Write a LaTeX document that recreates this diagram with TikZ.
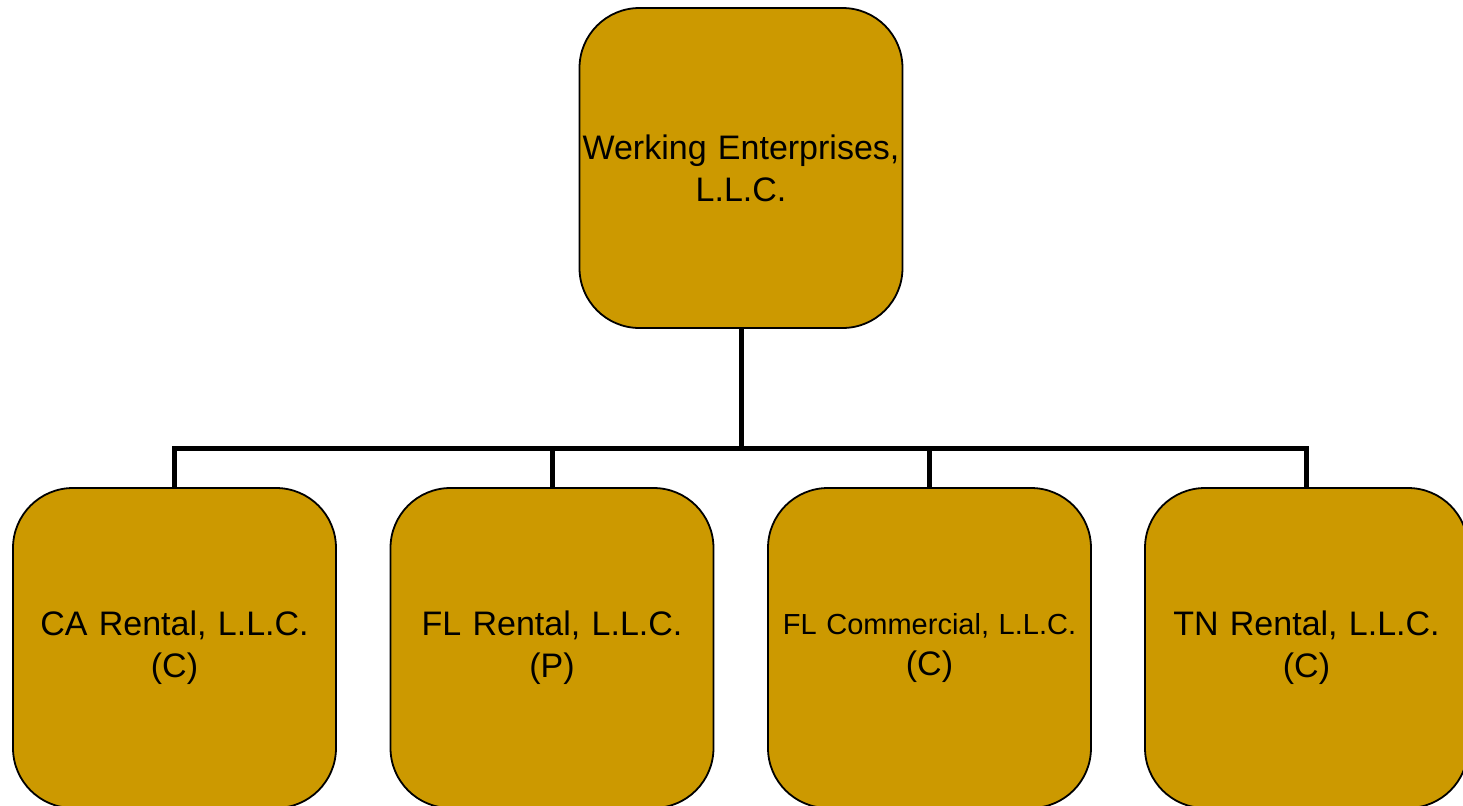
\documentclass[tikz,border=0pt]{standalone}
\usepackage{fontspec}
\setmainfont{Liberation Sans}
\usepackage{xcolor}
\usetikzlibrary{positioning, calc}
\definecolor{gold}{HTML}{CC9900}

\begin{document}
\begin{tikzpicture}[x=0.5pt, y=-0.5pt]
\tikzstyle{company} = [rectangle, rounded corners=30pt, minimum width=161.5pt, minimum height=160pt, inner sep=0pt, text width=161pt, align=center, draw=black, line width=0.9pt, fill=gold, font=\fontsize{17}{21}\selectfont]
\tikzstyle{conn} = [line width=2.5pt, draw=black]

\useasboundingbox (0,0) rectangle (1463,805);
\clip (0,0) rectangle (1463,805);

\node[company] (top) at (741,168) {Werking Enterprises,\\L.L.C.};
\node[company] (ca) at (174.5,648) {CA Rental, L.L.C.\\(C)};
\node[company] (flr) at (552,648) {FL Rental, L.L.C.\\(P)};
\node[company, font=\fontsize{14.5}{20.5}\selectfont] (flc) at (929.5,648) {FL Commercial, L.L.C.\\{\fontsize{17}{21}\selectfont (C)}};
\node[company] (tn) at (1306.5,648) {TN Rental, L.L.C.\\(C)};

\foreach \child in {ca, flr, flc, tn}
  \draw[conn] (top.south) -- ++(0,120) -| (\child.north);
\end{tikzpicture}
\end{document}
